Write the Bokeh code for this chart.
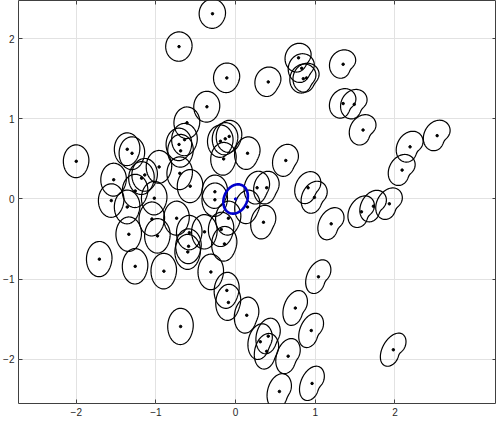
import numpy as np
from bokeh.plotting import figure
from bokeh.models import Range1d, FixedTicker, LinearAxis, CustomJSTickFormatter
from bokeh.embed import file_html
from bokeh.resources import INLINE

# point locations
xs_pts = [-0.29, -0.71, -0.11, -0.36, -0.61, -0.71, -0.69, -0.64, -1.36, -1.30,
          -2.00, -0.15, -0.19, -0.08, -0.13, 0.15, -0.96, -0.70, -1.53, -1.14,
          -1.18, -0.57, -1.26, -1.56, -1.36, -1.02, -0.26, -0.26, 0.15, 0.27,
          0.39, 0.63, 0.91, 0.99, 0.35, 1.20, -0.09, -1.05, -0.74, -1.34,
          -0.98, -0.58, -0.39, -0.59, -0.60, -0.14, -1.71, -1.26, -0.90, -0.31,
          -0.11, -0.09, 0.14, -0.69, 1.04, 0.75, 0.95, 0.31, 0.41, 0.39,
          0.66, 0.55, 0.96, 1.98, 0.41, 0.79, 0.83, 0.85, 0.89, 1.35,
          1.35, 1.49, 1.60, 2.19, 2.53, 2.09, 1.58, 1.73, 1.93, -0.18]
ys_pts = [2.31, 1.90, 1.51, 1.15, 0.95, 0.68, 0.60, 0.74, 0.62, 0.57,
          0.47, 0.50, 0.72, 0.78, 0.75, 0.57, 0.40, 0.32, 0.24, 0.30,
          0.26, 0.16, 0.10, -0.02, -0.10, 0.01, 0.09, -0.01, -0.10, 0.14,
          0.14, 0.48, 0.14, 0.02, -0.29, -0.31, -0.24, -0.25, -0.24, -0.44,
          -0.46, -0.42, -0.41, -0.59, -0.66, -0.56, -0.75, -0.84, -0.90, -0.91,
          -1.14, -1.29, -1.45, -1.59, -0.97, -1.36, -1.64, -1.78, -1.71, -1.90,
          -1.96, -2.40, -2.30, -1.88, 1.46, 1.76, 1.63, 1.50, 1.51, 1.68,
          1.19, 1.18, 0.86, 0.65, 0.79, 0.36, -0.16, -0.09, -0.06, -0.38]
blue_x = [0.0]
blue_y = [0.0]
ticks = [-2, -1, 0, 1, 2]


def blob(cx, cy):
    right = np.clip((cx + 0.3) / 1.6, 0, 1)
    low = np.clip((0.3 - cy) / 1.5, 0, 1)
    top = np.clip((cy - 0.6) / 1.0, 0, 1)
    rot = np.radians(90 - 30 * right)
    A = 1.08 * (0.19 + 0.02 * low - 0.02 * top)
    B = 1.08 * (0.15 - 0.025 * low * right + 0.005 * top)
    d = 0.05 + 0.27 * right
    th_d = np.radians(-35)
    t = np.linspace(0, 2 * np.pi, 100)
    ang = t - rot
    r = A * B / np.sqrt((B * np.cos(ang)) ** 2 + (A * np.sin(ang)) ** 2)
    dd = np.angle(np.exp(1j * (t - th_d)))
    r = r * (1 - d * np.exp(-dd ** 2 / (2 * 0.5 ** 2)))
    return list(cx + r * np.cos(t)), list(cy + r * np.sin(t))


def ellipse(cx, cy, A, B, rot_deg):
    t = np.linspace(0, 2 * np.pi, 100)
    rot = np.radians(rot_deg)
    ex = A * np.cos(t)
    ey = B * np.sin(t)
    return (list(cx + ex * np.cos(rot) - ey * np.sin(rot)),
            list(cy + ex * np.sin(rot) + ey * np.cos(rot)))


p = figure(width=496, height=418,
           x_range=Range1d(-2.725, 3.275), y_range=Range1d(-2.55, 2.475),
           output_backend="svg", toolbar_location=None,
           min_border_left=14, min_border_right=0, min_border_top=0,
           min_border_bottom=14)

bx, by = [], []
for cx, cy in zip(xs_pts, ys_pts):
    a, b = blob(cx, cy)
    bx.append(a)
    by.append(b)
p.multi_line(bx, by, line_color="black", line_width=1.2)
p.scatter(xs_pts, ys_pts, size=2.5, color="black")

ex, ey = [], []
for cx, cy in zip(blue_x, blue_y):
    a, b = ellipse(cx, cy, 0.19, 0.145, 65)
    ex.append(a)
    ey.append(b)
p.multi_line(ex, ey, line_color="#0000cc", line_width=2.6)
p.scatter(blue_x, blue_y, size=2.5, color="#0000cc")

for ax in p.axis:
    ax.ticker = FixedTicker(ticks=ticks)
    ax.axis_line_color = None
    ax.major_tick_in = 4
    ax.major_tick_out = 0
    ax.major_tick_line_color = "#404040"
    ax.minor_tick_line_color = None
    ax.major_label_text_font = "Liberation Sans"
    ax.major_label_text_font_size = "10px"
    ax.major_label_text_color = "#262626"
    ax.major_label_standoff = 4

for loc in ("right", "above"):
    ax = LinearAxis(ticker=FixedTicker(ticks=ticks),
                    formatter=CustomJSTickFormatter(code="return ''"),
                    axis_line_color=None, major_tick_in=4, major_tick_out=0,
                    major_tick_line_color="#404040", minor_tick_line_color=None,
                    major_label_standoff=0, major_label_text_font_size="0px")
    p.add_layout(ax, loc)

p.xgrid.ticker = FixedTicker(ticks=ticks)
p.ygrid.ticker = FixedTicker(ticks=ticks)
p.xgrid.grid_line_color = "#e2e2e2"
p.ygrid.grid_line_color = "#e2e2e2"
p.outline_line_color = "#404040"
p.outline_line_width = 1
p.background_fill_color = "white"
p.border_fill_color = "white"

open("out.html", "w").write(file_html(p, INLINE))
